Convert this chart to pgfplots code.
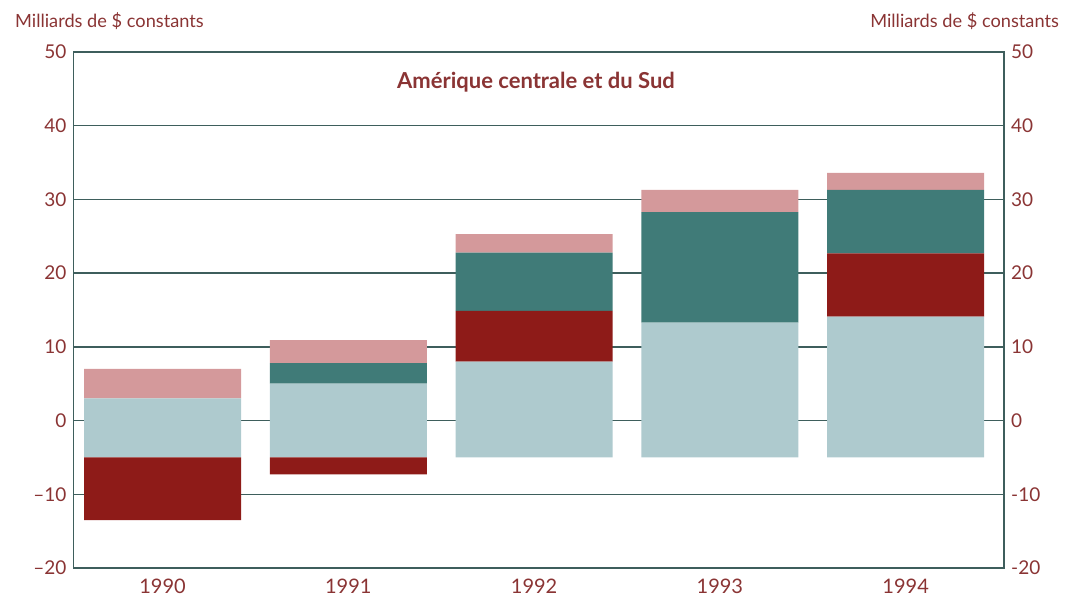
\documentclass[border=0pt]{standalone}
\usepackage{fontspec}
\setmainfont{Lato}
\usepackage{pgfplots}
\pgfplotsset{compat=1.18}
\usepackage{pgfplotstable}
\definecolor{txtred}{HTML}{8A3434}
\definecolor{darkred}{HTML}{8E1B18}
\definecolor{pinkish}{HTML}{D4999B}
\definecolor{tealdark}{HTML}{407B78}
\definecolor{lightblue}{HTML}{AECACE}
\definecolor{gridc}{HTML}{3E5E5C}

% columns: base (hidden), negative red, light blue, positive red, teal, pink
\pgfplotstableread{
x base drneg lb drpos teal pink
0 -13.5 8.5 8.0 0 0 4.0
1 -7.3 2.3 10.0 0 2.8 3.1
2 -5.0 0 13.0 6.9 7.9 2.5
3 -5.0 0 18.3 0 15.0 3.0
4 -5.0 0 19.1 8.6 8.6 2.3
}\flows

\begin{document}
\begin{tikzpicture}[x=1pt,y=1pt]
\pgfplotsset{
  common/.style={
    width=465.5pt, height=258pt, scale only axis,
    xmin=-0.48, xmax=4.53, ymin=-20, ymax=50,
    ytick={-20,-10,...,50},
    tick style={draw=none},
    font=\fontsize{9.5}{11}\selectfont,
    tick label style={text=txtred},
    axis line style={gridc, line width=0.8pt},
  },
}
\begin{axis}[common,
  ybar stacked, stack negative=on previous, bar width=0.845,
  xtick={0,1,2,3,4}, xticklabels={1990,1991,1992,1993,1994},
  xticklabel style={font=\fontsize{10}{12}\selectfont, yshift=-2pt},
  yticklabels={–20,–10,0,10,20,30,40,50},
  ymajorgrids, grid style={gridc, line width=0.7pt},
]
  \addplot[fill=none, draw=none] table[x=x, y=base] {\flows};
  \addplot[fill=darkred, draw=none] table[x=x, y=drneg] {\flows};
  \addplot[fill=lightblue, draw=none] table[x=x, y=lb] {\flows};
  \addplot[fill=darkred, draw=none] table[x=x, y=drpos] {\flows};
  \addplot[fill=tealdark, draw=none] table[x=x, y=teal] {\flows};
  \addplot[fill=pinkish, draw=none] table[x=x, y=pink] {\flows};
  \node[anchor=base, font=\fontsize{11}{13}\selectfont\bfseries, text=txtred]
    at (axis cs:2.01,45.1) {Amérique centrale et du Sud};
  \coordinate (bl) at (axis cs:-0.875,-23.93);
  \coordinate (tr) at (axis cs:4.89,57.07);
  \coordinate (ll) at (axis cs:-0.8316,53.3);
  \coordinate (rl) at (axis cs:4.863,53.3);
\end{axis}
\begin{axis}[common,
  axis x line=none, axis y line*=right,
  yticklabels={-20,-10,0,10,20,30,40,50},
]
\end{axis}
\node[anchor=base west, text=txtred, font=\fontsize{9.1}{11}\selectfont] at (ll) {Milliards de \$ constants};
\node[anchor=base east, text=txtred, font=\fontsize{9.1}{11}\selectfont] at (rl) {Milliards de \$ constants};
\pgfresetboundingbox
\path[use as bounding box] (bl) rectangle (tr);
\end{tikzpicture}
\end{document}
